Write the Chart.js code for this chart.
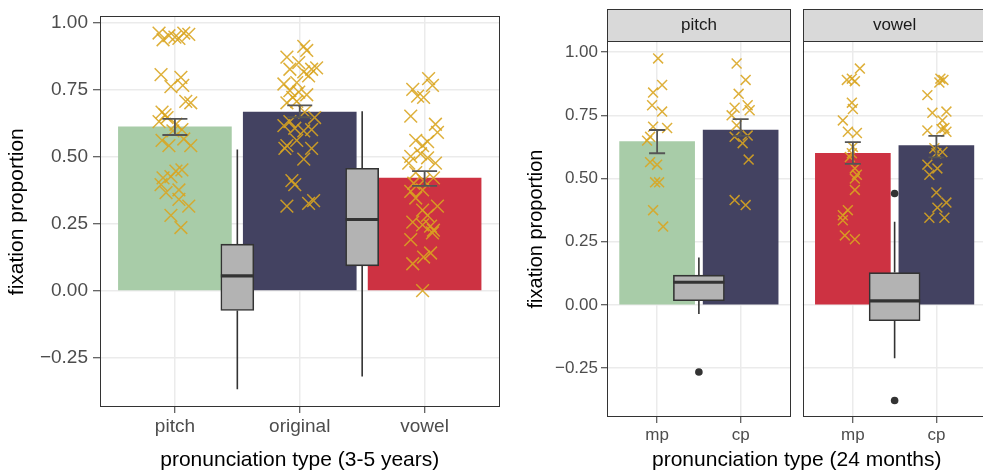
<!DOCTYPE html>
<html>
<head>
<meta charset="utf-8">
<script src="https://cdn.jsdelivr.net/npm/chart.js@4.4.1/dist/chart.umd.min.js"></script>
<style>
html, body { margin: 0; padding: 0; overflow: hidden; background: #fff; width: 983px; height: 473px; }
.wrap { position: absolute; top: 0; height: 473px; }
#leftWrap { left: 0; width: 510px; }
#rightWrap { left: 515px; width: 480px; }
</style>
</head>
<body>
<div class="wrap" id="leftWrap"><canvas id="leftChart"></canvas></div>
<div class="wrap" id="rightWrap"><canvas id="rightChart"></canvas></div>
<script>
// ---------- data: 3-5 years ----------
const kidTypes = ['pitch', 'original', 'vowel'];
const kidMeans = [0.61, 0.665, 0.419];
const kidLow = [0.58, 0.646, 0.39];
const kidHigh = [0.64, 0.69, 0.445];

const kidPitchX = [0.873, 0.905, 0.952, 1.0, 1.071, 1.032, 1.111, 0.889, 0.968, 1.048, 1.063, 1.087, 1.127, 0.897, 0.921, 0.873, 0.937, 1.008, 1.056, 0.984, 0.897, 0.952, 1.127, 1.071, 0.905, 0.968, 1.056, 1.008, 0.889, 1.032, 0.929, 1.032, 1.111, 0.968, 1.048];
const kidPitchY = [0.96, 0.935, 0.95, 0.945, 0.96, 0.94, 0.955, 0.805, 0.76, 0.795, 0.765, 0.705, 0.70, 0.665, 0.655, 0.63, 0.645, 0.62, 0.60, 0.595, 0.56, 0.54, 0.54, 0.565, 0.42, 0.425, 0.45, 0.445, 0.395, 0.375, 0.365, 0.34, 0.315, 0.28, 0.235];
const kidOrigX = [2.032, 2.056, 1.897, 1.992, 1.921, 2.032, 2.095, 2.135, 1.873, 1.976, 2.071, 1.921, 1.992, 2.056, 1.897, 1.976, 1.944, 2.040, 2.119, 1.921, 1.873, 1.960, 2.032, 2.095, 1.897, 1.976, 2.095, 2.032, 1.881, 1.937, 1.960, 1.897, 2.071, 2.111];
const kidOrigY = [0.91, 0.895, 0.87, 0.85, 0.825, 0.815, 0.825, 0.83, 0.77, 0.775, 0.80, 0.745, 0.74, 0.73, 0.70, 0.705, 0.72, 0.665, 0.645, 0.63, 0.615, 0.605, 0.595, 0.60, 0.54, 0.56, 0.53, 0.49, 0.53, 0.41, 0.395, 0.315, 0.325, 0.335];
const kidVowelX = [3.032, 3.063, 2.905, 2.944, 2.992, 2.889, 3.087, 3.103, 2.929, 2.984, 3.024, 2.889, 3.024, 3.087, 2.873, 2.968, 2.929, 2.992, 3.071, 2.913, 2.889, 2.984, 2.929, 3.103, 2.984, 3.024, 2.905, 2.984, 3.048, 3.071, 3.063, 2.889, 3.048, 2.992, 2.905, 2.984];
const kidVowelY = [0.79, 0.765, 0.75, 0.725, 0.72, 0.65, 0.62, 0.59, 0.56, 0.54, 0.555, 0.50, 0.495, 0.475, 0.475, 0.51, 0.44, 0.41, 0.42, 0.40, 0.37, 0.375, 0.345, 0.315, 0.30, 0.28, 0.255, 0.245, 0.24, 0.225, 0.215, 0.19, 0.14, 0.125, 0.10, 0.0];

// boxplots between the bars (difference scores)
const kidBoxX = [1.5, 2.5];
const kidBoxMin = [-0.368, -0.32];
const kidBoxQ1 = [-0.074, 0.092];
const kidBoxMed = [0.055, 0.265];
const kidBoxQ3 = [0.173, 0.456];
const kidBoxMax = [0.526, 0.668];

// ---------- data: 24 months ----------
const facetNames = ['pitch', 'vowel'];
const toddlerTypes = ['mp', 'cp'];
const toddlerMeans = [[0.646, 0.692], [0.60, 0.63]];
const toddlerLow = [[0.60, 0.669], [0.558, 0.584]];
const toddlerHigh = [[0.692, 0.735], [0.644, 0.669]];

const tPitchMpX = [1.012, 1.060, 0.952, 0.940, 1.060, 1.120, 0.952, 0.916, 0.880, 0.916, 1.0, 0.976, 1.024, 0.952, 1.072];
const tPitchMpY = [0.975, 0.87, 0.84, 0.79, 0.765, 0.70, 0.705, 0.665, 0.65, 0.565, 0.555, 0.485, 0.485, 0.375, 0.31];
const tPitchCpX = [1.952, 2.060, 1.976, 2.084, 2.108, 1.928, 1.892, 1.952, 1.928, 2.084, 2.024, 2.096, 1.928, 2.060];
const tPitchCpY = [0.955, 0.89, 0.835, 0.79, 0.77, 0.78, 0.75, 0.71, 0.665, 0.67, 0.64, 0.575, 0.415, 0.395];
const tVowelMpX = [1.084, 0.928, 0.988, 1.024, 0.988, 1.0, 0.880, 0.940, 1.048, 1.0, 0.964, 0.988, 1.024, 1.048, 1.024, 1.024, 0.940, 0.880, 0.880, 0.904, 1.024];
const tVowelMpY = [0.935, 0.89, 0.895, 0.885, 0.80, 0.775, 0.73, 0.685, 0.68, 0.625, 0.585, 0.60, 0.54, 0.515, 0.50, 0.455, 0.375, 0.355, 0.335, 0.275, 0.26];
const tVowelCpX = [2.048, 2.036, 2.084, 1.892, 1.952, 2.120, 2.072, 2.096, 1.892, 2.060, 2.120, 1.976, 2.072, 2.0, 1.892, 1.916, 2.012, 2.0, 2.120, 2.012, 1.916, 2.096];
const tVowelCpY = [0.895, 0.88, 0.89, 0.83, 0.76, 0.765, 0.73, 0.70, 0.69, 0.695, 0.685, 0.62, 0.605, 0.60, 0.555, 0.515, 0.54, 0.445, 0.405, 0.385, 0.345, 0.345];

const tBoxX = 1.5;
const tBoxMin = [-0.036, -0.211];
const tBoxQ1 = [0.017, -0.062];
const tBoxMed = [0.09, 0.016];
const tBoxQ3 = [0.118, 0.128];
const tBoxMax = [0.188, 0.329];
const tOutFacet = [0, 1, 1];
const tOutY = [-0.265, 0.441, -0.378];

const yTicks = [-0.25, 0, 0.25, 0.5, 0.75, 1];

// ---------- styling ----------
const green = 'rgb(168,204,168)', navy = 'rgb(67,66,97)', red = 'rgb(205,50,66)';
const crossColor = 'rgba(218,165,32,0.88)';
const fontName = "'Liberation Sans', Arial, sans-serif";
const facetGap = 0.1435;           // 12px gap between facets, in x units
const facetShift = 2.2 + facetGap;  // offset of the second facet

Chart.defaults.font.family = fontName;

function fmt(v) {
    return v < 0 ? '\u2212' + Math.abs(v).toFixed(2) : v.toFixed(2);
}

function pts(xs, ys, shift) {
    return xs.map((x, i) => ({ x: x + shift, y: ys[i] }));
}

function crossSet(data, r) {
    return {
        type: 'scatter', data: data, pointStyle: 'crossRot', pointRadius: r,
        borderColor: crossColor, backgroundColor: crossColor, borderWidth: 1.5, order: 2
    };
}

function errorBars(chart, xs, lows, highs, capPx) {
    const { ctx, scales: { x, y } } = chart;
    ctx.save();
    ctx.strokeStyle = '#555';
    ctx.lineWidth = 1.8;
    xs.forEach((v, i) => {
        const px = x.getPixelForValue(v), lo = y.getPixelForValue(lows[i]), hi = y.getPixelForValue(highs[i]);
        ctx.beginPath();
        ctx.moveTo(px, lo); ctx.lineTo(px, hi);
        ctx.moveTo(px - capPx / 2, lo); ctx.lineTo(px + capPx / 2, lo);
        ctx.moveTo(px - capPx / 2, hi); ctx.lineTo(px + capPx / 2, hi);
        ctx.stroke();
    });
    ctx.restore();
}

function boxLines(chart, xs, mins, q1s, meds, q3s, maxs, boxPx) {
    const { ctx, scales: { x, y } } = chart;
    ctx.save();
    ctx.strokeStyle = '#333';
    xs.forEach((v, i) => {
        const px = x.getPixelForValue(v);
        ctx.lineWidth = 1.6;
        ctx.beginPath();
        ctx.moveTo(px, y.getPixelForValue(maxs[i])); ctx.lineTo(px, y.getPixelForValue(q3s[i]));
        ctx.moveTo(px, y.getPixelForValue(q1s[i])); ctx.lineTo(px, y.getPixelForValue(mins[i]));
        ctx.stroke();
        ctx.lineWidth = 3.2;
        ctx.beginPath();
        const m = y.getPixelForValue(meds[i]);
        ctx.moveTo(px - boxPx / 2, m); ctx.lineTo(px + boxPx / 2, m);
        ctx.stroke();
    });
    ctx.restore();
}

function panelRect(ctx, l, t, r, b) {
    ctx.save();
    ctx.strokeStyle = '#333';
    ctx.lineWidth = 1;
    ctx.strokeRect(Math.round(l) + 0.5, Math.round(t) + 0.5, Math.round(r - l) - 1, Math.round(b - t) - 1);
    ctx.restore();
}

function axisCommon(tickSize, tickLen, pad) {
    return {
        type: 'linear', offset: false,
        grid: { offset: false, color: '#ebebeb', lineWidth: 1.5, tickLength: tickLen, tickColor: '#333', tickWidth: 1 },
        border: { display: false },
        ticks: { autoSkip: false, maxRotation: 0, padding: pad, color: '#4d4d4d', font: { size: tickSize } }
    };
}

// ---------- left chart ----------
const kidBoxPx = 33;
const leftDecor = {
    id: 'leftDecor',
    afterDatasetsDraw(chart) {
        errorBars(chart, kidTypes.map((t, i) => i + 1), kidLow, kidHigh, 25);
        boxLines(chart, kidBoxX, kidBoxMin, kidBoxQ1, kidBoxMed, kidBoxQ3, kidBoxMax, kidBoxPx);
        const a = chart.chartArea;
        panelRect(chart.ctx, a.left, a.top, a.right, a.bottom);
    }
};

const leftX = axisCommon(19, 6, 2);
Object.assign(leftX, {
    min: 0.4, max: 3.6,
    afterBuildTicks: s => { s.ticks = kidTypes.map((t, i) => ({ value: i + 1 })); },
    afterFit: s => { s.height = 66; },
    title: { display: true, text: 'pronunciation type (3-5 years)', color: '#000', font: { size: 21 }, padding: { top: 0, bottom: 0 } }
});
leftX.ticks.callback = (v, i) => kidTypes[i];

const leftY = axisCommon(19, 7, 5);
Object.assign(leftY, {
    min: -0.434, max: 1.022,
    afterBuildTicks: s => { s.ticks = yTicks.map(v => ({ value: v })); },
    afterFit: s => { s.width = 100; },
    title: { display: true, text: 'fixation proportion', color: '#000', font: { size: 21 }, padding: { top: 5, bottom: 0 } }
});
leftY.ticks.callback = v => fmt(v);

new Chart(document.getElementById('leftChart'), {
    type: 'bar',
    data: {
        datasets: [
            {
                type: 'bar', data: kidMeans.map((m, i) => ({ x: i + 1, y: m })),
                backgroundColor: [green, navy, red], barThickness: 113, grouped: false, order: 4
            },
            {
                type: 'bar', data: kidBoxX.map((v, i) => ({ x: v, y: [kidBoxQ1[i], kidBoxQ3[i]] })),
                backgroundColor: '#b3b3b3', borderColor: '#333', borderWidth: 1.6, borderSkipped: false,
                barThickness: kidBoxPx, grouped: false, order: 3
            },
            crossSet(pts(kidPitchX, kidPitchY, 0), 9),
            crossSet(pts(kidOrigX, kidOrigY, 0), 9),
            crossSet(pts(kidVowelX, kidVowelY, 0), 9)
        ]
    },
    options: {
        responsive: true, maintainAspectRatio: false, animation: false, events: [],
        layout: { padding: { top: 11, right: 7, left: 0, bottom: 0 } },
        plugins: { legend: { display: false }, tooltip: { enabled: false } },
        scales: { x: leftX, y: leftY }
    },
    plugins: [leftDecor]
});

// ---------- right chart (two facets) ----------
const tBoxPx = 51;
const stripH = 32;
const rightDecor = {
    id: 'rightDecor',
    beforeDatasetsDraw(chart) {
        // blank out the gap between the two facet panels
        const { ctx, chartArea: a, scales: { x } } = chart;
        const g0 = x.getPixelForValue(2.6), g1 = x.getPixelForValue(2.6 + facetGap);
        ctx.save();
        ctx.fillStyle = '#fff';
        ctx.fillRect(g0, a.top - 1, g1 - g0, a.bottom - a.top + 2);
        ctx.restore();
    },
    afterDatasetsDraw(chart) {
        facetNames.forEach((f, k) => {
            const s = k * facetShift;
            errorBars(chart, toddlerTypes.map((t, i) => i + 1 + s), toddlerLow[k], toddlerHigh[k], 16);
            boxLines(chart, [tBoxX + s], [tBoxMin[k]], [tBoxQ1[k]], [tBoxMed[k]], [tBoxQ3[k]], [tBoxMax[k]], tBoxPx);
        });
    },
    afterDraw(chart) {
        const { ctx, chartArea: a, scales: { x } } = chart;
        facetNames.forEach((f, k) => {
            const l = x.getPixelForValue(0.4 + k * facetShift), r = x.getPixelForValue(2.6 + k * facetShift);
            panelRect(ctx, l, a.top, r, a.bottom);
            ctx.save();
            ctx.fillStyle = '#d9d9d9';
            ctx.fillRect(Math.round(l), a.top - stripH, Math.round(r - l), stripH);
            ctx.restore();
            panelRect(ctx, l, a.top - stripH, r, a.top + 1);
            ctx.save();
            ctx.fillStyle = '#1a1a1a';
            ctx.font = '17px ' + fontName;
            ctx.textAlign = 'center';
            ctx.textBaseline = 'middle';
            ctx.fillText(f, (l + r) / 2, a.top - stripH / 2);
            ctx.restore();
        });
    }
};

const rightTickVals = [1, 2, 1 + facetShift, 2 + facetShift];
const rightX = axisCommon(17, 6, 2);
Object.assign(rightX, {
    min: 0.4, max: 2.6 + facetShift,
    afterBuildTicks: s => { s.ticks = rightTickVals.map(v => ({ value: v })); },
    afterFit: s => { s.height = 56; },
    title: { display: true, text: 'pronunciation type (24 months)', color: '#000', font: { size: 21 }, padding: { top: 0, bottom: 0 } }
});
rightX.ticks.callback = (v, i) => toddlerTypes[i % 2];

const rightY = axisCommon(17, 6, 3);
Object.assign(rightY, {
    min: -0.443, max: 1.044,
    afterBuildTicks: s => { s.ticks = yTicks.map(v => ({ value: v })); },
    afterFit: s => { s.width = 92; },
    title: { display: true, text: 'fixation proportion', color: '#000', font: { size: 20 }, padding: { top: 9, bottom: 0 } }
});
rightY.ticks.callback = v => fmt(v);

const barColors = [[green, navy], [red, navy]];
const rightSets = [];
facetNames.forEach((f, k) => {
    rightSets.push({
        type: 'bar', data: toddlerMeans[k].map((m, i) => ({ x: i + 1 + k * facetShift, y: m })),
        backgroundColor: barColors[k], barThickness: 75, grouped: false, order: 4
    });
});
rightSets.push({
    type: 'bar', data: facetNames.map((f, k) => ({ x: tBoxX + k * facetShift, y: [tBoxQ1[k], tBoxQ3[k]] })),
    backgroundColor: '#b3b3b3', borderColor: '#333', borderWidth: 1.6, borderSkipped: false,
    barThickness: tBoxPx, grouped: false, order: 3
});
rightSets.push(crossSet(pts(tPitchMpX, tPitchMpY, 0), 7));
rightSets.push(crossSet(pts(tPitchCpX, tPitchCpY, 0), 7));
rightSets.push(crossSet(pts(tVowelMpX, tVowelMpY, facetShift), 7));
rightSets.push(crossSet(pts(tVowelCpX, tVowelCpY, facetShift), 7));
rightSets.push({
    type: 'scatter', data: tOutY.map((v, i) => ({ x: tBoxX + tOutFacet[i] * facetShift, y: v })),
    pointStyle: 'circle', pointRadius: 3.8, backgroundColor: '#333', borderWidth: 0, order: 1
});

new Chart(document.getElementById('rightChart'), {
    type: 'bar',
    data: { datasets: rightSets },
    options: {
        responsive: true, maintainAspectRatio: false, animation: false, events: [],
        layout: { padding: { top: 41, right: 8, left: 0, bottom: 0 } },
        plugins: { legend: { display: false }, tooltip: { enabled: false } },
        scales: { x: rightX, y: rightY }
    },
    plugins: [rightDecor]
});
</script>
</body>
</html>
